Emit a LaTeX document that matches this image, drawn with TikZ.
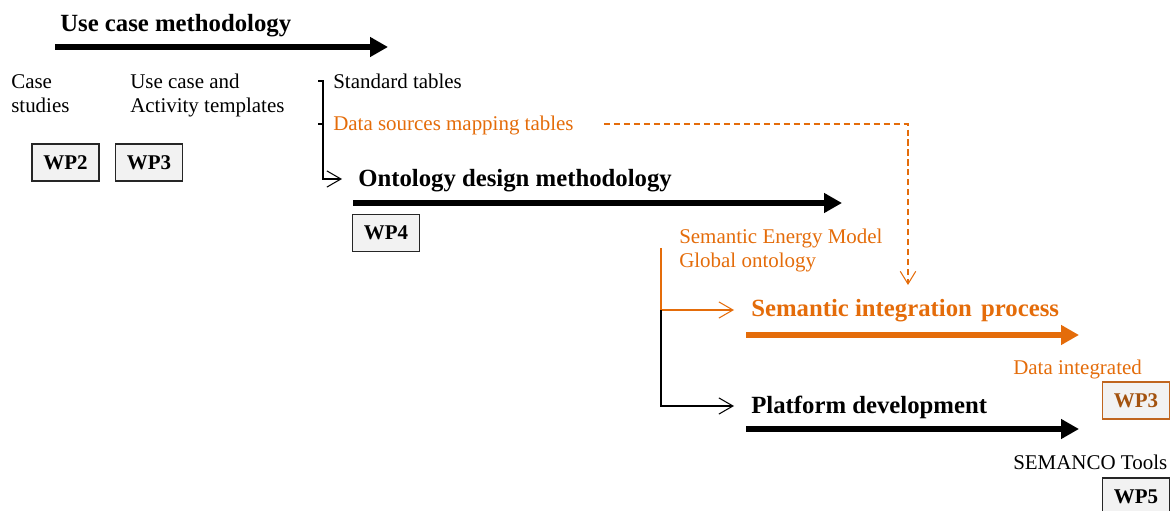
\documentclass[tikz,border=0pt]{standalone}
\usepackage{fontspec}
\setmainfont{Liberation Serif}
\usetikzlibrary{arrows.meta}

\definecolor{semorange}{HTML}{E46C0A}
\definecolor{wpbrown}{HTML}{A3520E}
\definecolor{wpborder}{HTML}{C0651E}
\definecolor{wpfill}{HTML}{F2F2F2}

\tikzset{
  phase/.style={line width=4.3pt, -{Triangle[length=12.8pt,width=13.5pt]}},
  ptitle/.style={anchor=base west, inner sep=0pt, font=\fontsize{17.6}{21}\selectfont\bfseries},
  note/.style={anchor=base west, inner sep=0pt, align=left, font=\fontsize{14.9}{17.6}\selectfont},
  wpbox/.style={draw=black!85, line width=0.9pt, fill=wpfill, minimum width=1.675cm,
    minimum height=0.925cm, inner sep=0pt, font=\fontsize{14.9}{17.6}\selectfont\bfseries},
  feed/.style={line width=0.75pt, -{Straight Barb[length=10pt,width=11.5pt]}},
  linkdash/.style={semorange, line width=0.75pt, dash pattern=on 4.3pt off 2.8pt,
    -{Straight Barb[length=9pt,width=11pt]}}
}

\begin{document}
\begin{tikzpicture}[x=0.025cm,y=-0.025cm]
\clip (0,0) rectangle (1172,511);

\node[ptitle] (ucm) at (60,32) {Use case methodology};
\coordinate (ucmA) at (55,47);
\coordinate (ucmB) at (388,47);
\draw[phase] (ucmA) -- (ucmB);

\node[note] (cases) at (11,113) {Case\\studies};
\node[note] (templ) at (130,113) {Use case and\\Activity templates};
\node[wpbox] (wp2) at (65.5,162.5) {WP2};
\node[wpbox] (wp3) at (149,162.5) {WP3};

\node[note] (std) at (333,89) {Standard tables};
\node[note, text=semorange] (dsm) at (333,131) {Data sources mapping tables};
\coordinate (stdT) at (318,81);
\coordinate (dsmT) at (318,124);
\coordinate (brA) at (323,81);
\coordinate (brB) at (323,124);
\coordinate (brC) at (323,179);
\coordinate (odmIn) at (342,179);
\draw[feed] (stdT) -- (brA) -- (brC) -- (odmIn);
\draw[line width=0.75pt] (dsmT) -- (brB);

\coordinate (dsA) at (604,124);
\coordinate (dsB) at (908,124);
\coordinate (dsC) at (908,285);
\draw[linkdash] (dsA) -- (dsB) -- (dsC);

\node[ptitle] (odm) at (358,187) {Ontology design methodology};
\coordinate (odmA) at (353,203);
\coordinate (odmB) at (842,203);
\draw[phase] (odmA) -- (odmB);
\node[wpbox] (wp4) at (386,233) {WP4};

\node[note, text=semorange] (sem) at (679,268) {Semantic Energy Model\\Global ontology};
\coordinate (gA) at (661,248);
\coordinate (gB) at (661,310);
\coordinate (gC) at (661,406);
\coordinate (sipIn) at (734,310);
\coordinate (pdIn) at (734,406);
\draw[feed, semorange] (gA) -- (gB) -- (sipIn);
\draw[feed] (gB) -- (gC) -- (pdIn);

\node[ptitle, text=semorange] (sip) at (751,317) {Semantic integration\hspace{0.12em} process};
\coordinate (sipA) at (746,335);
\coordinate (sipB) at (1079,335);
\draw[phase, semorange] (sipA) -- (sipB);
\node[note, text=semorange] (dint) at (1013,375) {Data integrated};
\node[wpbox, draw=wpborder, text=wpbrown] (wp3b) at (1136,400.5) {WP3};

\node[ptitle] (pd) at (751,413) {Platform development};
\coordinate (pdA) at (746,429);
\coordinate (pdB) at (1079,429);
\draw[phase] (pdA) -- (pdB);
\node[note] (tools) at (1013,470) {SEMANCO Tools};
\node[wpbox] (wp5) at (1136,496.5) {WP5};
\end{tikzpicture}
\end{document}
